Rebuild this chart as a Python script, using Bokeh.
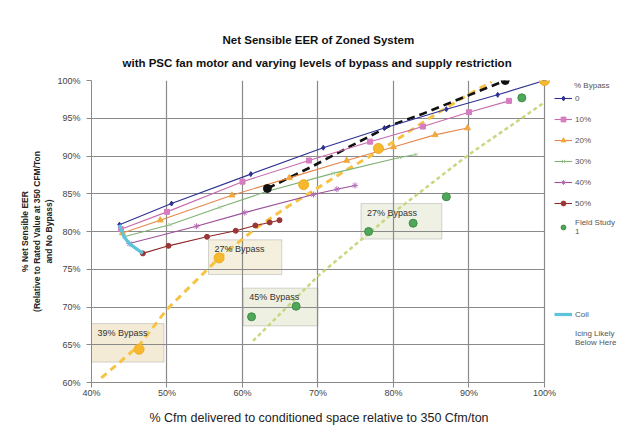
from bokeh.plotting import figure
from bokeh.models import (Range1d, FixedTicker, Legend, LegendItem, Label, BoxAnnotation, Grid,
                          Title)
from bokeh.embed import file_html
from bokeh.resources import INLINE

# ---------------- data ----------------
x_ticks = [40, 50, 60, 70, 80, 90, 100]
x_tick_labels = ["40%", "50%", "60%", "70%", "80%", "90%", "100%"]
y_ticks = [60, 65, 70, 75, 80, 85, 90, 95, 100]
y_tick_labels = ["60%", "65%", "70%", "75%", "80%", "85%", "90%", "95%", "100%"]

bypass_0_x = [43.7, 50.6, 61.1, 70.7, 78.8, 87.0, 93.8, 100.0]
bypass_0_y = [80.9, 83.7, 87.6, 91.1, 93.7, 96.2, 98.1, 100.0]
bypass_10_x = [43.9, 50.0, 60.0, 68.8, 76.9, 83.9, 90.0, 95.3]
bypass_10_y = [80.3, 82.6, 86.6, 89.4, 91.9, 93.9, 95.8, 97.3]
bypass_20_x = [44.1, 49.1, 58.6, 66.2, 73.8, 80.0, 85.5, 89.8]
bypass_20_y = [79.8, 81.5, 84.8, 87.1, 89.4, 91.2, 92.8, 93.7]
bypass_30_x = [44.3, 50.4, 57.0, 63.2, 72.0, 80.8, 83.0]
bypass_30_y = [79.3, 80.9, 83.2, 85.3, 87.7, 89.8, 90.2]
bypass_40_x = [45.0, 53.9, 60.3, 69.4, 72.5, 74.9]
bypass_40_y = [78.4, 80.7, 82.5, 84.9, 85.6, 86.1]
bypass_50_x = [46.8, 50.2, 55.3, 59.1, 61.7, 63.6, 64.9]
bypass_50_y = [77.1, 78.1, 79.3, 80.1, 80.8, 81.2, 81.5]

coil_x = [43.7, 43.9, 44.1, 44.3, 45.0, 46.8]
coil_y = [80.9, 80.3, 79.8, 79.3, 78.4, 77.1]

field1_x = [61.2, 67.1, 76.7, 82.6, 87.0, 97.0]
field1_y = [68.7, 70.1, 80.0, 81.1, 84.6, 97.7]
field1_trend_x = [61.4, 70.0, 80.0, 90.0, 100.0]
field1_trend_y = [65.5, 74.1, 82.5, 90.2, 97.1]

field2_x = [46.3, 56.9, 68.1, 78.0, 100.0]
field2_y = [64.4, 76.5, 86.2, 91.0, 100.0]
field2_trend_x = [41.3, 46.3, 50.0, 56.9, 62.0, 66.0, 70.0, 74.0, 78.0, 82.0, 86.0, 90.0, 93.0]
field2_trend_y = [60.6, 64.9, 69.7, 76.5, 80.6, 83.3, 85.8, 88.3, 90.6, 93.2, 95.8, 98.2, 99.8]

field3_x = [63.3, 94.8]
field3_y = [85.7, 100.0]
field3_trend_x = [63.3, 69.4, 74.5, 79.5, 83.9, 90.1, 94.8]
field3_trend_y = [85.7, 88.7, 91.4, 94.0, 95.6, 98.1, 100.0]

series_names = ["0", "10%", "20%", "30%", "40%", "50%"]
series_x = [bypass_0_x, bypass_10_x, bypass_20_x, bypass_30_x, bypass_40_x, bypass_50_x]
series_y = [bypass_0_y, bypass_10_y, bypass_20_y, bypass_30_y, bypass_40_y, bypass_50_y]

box_texts = ["39% Bypass", "27% Bypass", "45% Bypass", "27% Bypass"]

title_line1 = "Net Sensible EER of Zoned System"
title_line2 = "with PSC fan motor and varying levels of bypass and supply restriction"
x_caption = "% Cfm delivered to conditioned space relative to 350 Cfm/ton"

# ---------------- styles ----------------
line_colors = ["#2e3192", "#c86aae", "#e4884e", "#7fb274", "#9c4f9a", "#8e2a2a"]
marker_colors = ["#2e3192", "#d67cc0", "#f2a93b", "#a9c9a0", "#b56db5", "#9c3535"]
markers = ["diamond", "square", "triangle", "x", "asterisk", "circle"]
marker_sizes = [5, 5, 6, 5, 6, 5]

FONT = "Liberation Sans"

# frame extended to the right to host the legend (same px per unit as the 40..100 area)
p = figure(frame_width=530, frame_height=302, output_backend="svg", toolbar_location=None,
           x_range=Range1d(40, 110.2), y_range=Range1d(60, 100),
           min_border_left=91, min_border_right=2, min_border_top=80, min_border_bottom=47)
p.title = None
p.outline_line_color = None
p.background_fill_color = "white"
p.border_fill_color = "white"

# title lines (centred over the 40..100 area via left offset)
p.add_layout(Title(text=title_line2, align="left", offset=31, standoff=24, text_font=FONT,
                   text_font_size="11.5px", text_font_style="bold", text_color="#111111"),
             "above")
p.add_layout(Title(text=title_line1, align="left", offset=131, standoff=-7, text_font=FONT,
                   text_font_size="11.5px", text_font_style="bold", text_color="#111111"),
             "above")

for ax in (p.xaxis[0], p.yaxis[0]):
    ax.axis_line_color = "#8a8a8a"
    ax.major_tick_line_color = "#8a8a8a"
    ax.major_tick_out = 5
    ax.major_tick_in = 0
    ax.minor_tick_line_color = None
    ax.major_label_text_font = FONT
    ax.major_label_text_font_size = "9px"
    ax.major_label_text_color = "#444444"
    ax.axis_label_text_font = FONT
    ax.axis_label_text_color = "#222222"
p.xaxis.bounds = (40, 100)
p.xaxis.ticker = FixedTicker(ticks=x_ticks)
p.yaxis.ticker = FixedTicker(ticks=y_ticks)
p.xaxis.major_label_overrides = dict(zip(x_ticks, x_tick_labels))
p.yaxis.major_label_overrides = dict(zip(y_ticks, y_tick_labels))
p.xaxis.major_label_standoff = 0
p.yaxis.major_label_standoff = 6

p.yaxis.axis_label = ("% Net Sensible EER\n(Relative to Rated Value at 350 CFM/Ton\n"
                      "and No Bypass)")
p.yaxis.axis_label_text_font_size = "8.5px"
p.yaxis.axis_label_text_font_style = "bold"
p.yaxis.axis_label_text_line_height = 1.2
p.yaxis.axis_label_standoff = 0

# caption below the x axis, centred under the 40..100 area
p.add_layout(Title(text=x_caption, align="left", offset=58, standoff=20, vertical_align="top",
                   text_font=FONT, text_font_size="12.5px", text_font_style="normal",
                   text_color="#222222"), "below")

p.xgrid.ticker = FixedTicker(ticks=x_ticks)
p.ygrid.ticker = FixedTicker(ticks=y_ticks)
for g in (p.xgrid[0], p.ygrid[0]):
    g.grid_line_color = "#8a8a8a"
    g.grid_line_width = 1.2
if "cross_bounds" in Grid.properties():
    p.ygrid[0].cross_bounds = (40, 100)

# annotation boxes (behind grid)
boxes = [
    (40.0, 49.6, 67.8, 62.7, "#f3ebd6"),
    (55.5, 65.2, 78.9, 74.3, "#f5efdd"),
    (60.1, 70.0, 72.5, 67.5, "#eef0e1"),
    (75.7, 86.4, 83.7, 79.0, "#eff1e5"),
]
for (l, r, t, b, c), txt in zip(boxes, box_texts):
    p.add_layout(BoxAnnotation(left=l, right=r, top=t, bottom=b, fill_color=c, fill_alpha=1,
                               line_color="#7a7a7a", line_width=1, level="image"))
    p.add_layout(Label(x=l + 0.8, y=t - 1.2, text=txt, text_font=FONT, text_font_size="9px",
                       text_color="#333333", text_baseline="middle"))

# field trend lines
p.line(field1_trend_x, field1_trend_y, line_color="#c9d77e", line_width=2.5, line_dash="4 3")
p.line(field2_trend_x, field2_trend_y, line_color="#f6c343", line_width=3, line_dash="7 5")
p.line(field3_trend_x, field3_trend_y, line_color="#111111", line_width=2.6, line_dash="8 5")

items = []
for name, xs, ys, lc, mc, mk, ms in zip(series_names, series_x, series_y, line_colors,
                                        marker_colors, markers, marker_sizes):
    r1 = p.line(xs, ys, line_color=lc, line_width=1.1)
    r2 = p.scatter(xs, ys, marker=mk, size=ms, fill_color=mc, line_color=mc, line_width=1)
    items.append(LegendItem(label=name, renderers=[r1, r2]))

coil = p.line(coil_x, coil_y, line_color="#5ec4dc", line_width=3.2)

f1 = p.scatter(field1_x, field1_y, marker="circle", size=8, fill_color="#4fa85a",
               line_color="#3b8c46", line_width=1)
items.append(LegendItem(label="Field Study\n1", renderers=[f1]))
p.scatter(field2_x, field2_y, marker="circle", size=10, fill_color="#f5b82e",
          line_color="#f0ad20", line_width=1)
p.scatter(field3_x, field3_y, marker="circle", size=8, fill_color="#111111",
          line_color="#111111")

blank = p.line([], [], line_alpha=0)
for _ in range(3):
    items.append(LegendItem(label="\u00a0", renderers=[blank]))
items.append(LegendItem(label="Coil", renderers=[coil]))
items.append(LegendItem(label="Icing Likely\nBelow Here", renderers=[blank]))

leg = Legend(items=items, location=(463, 35), orientation="vertical",
             title="\u00a0" * 9 + "% Bypass", title_text_font=FONT,
             title_text_font_size="8px", title_text_color="#555555",
             title_text_font_style="normal", title_standoff=2,
             glyph_width=18, glyph_height=12, spacing=9, label_standoff=3,
             padding=0, margin=0, border_line_color=None, background_fill_alpha=0,
             label_text_font=FONT, label_text_font_size="8px", label_text_color="#555555",
             label_height=12)
p.add_layout(leg, "center")

open("out.html", "w").write(file_html(p, INLINE))
